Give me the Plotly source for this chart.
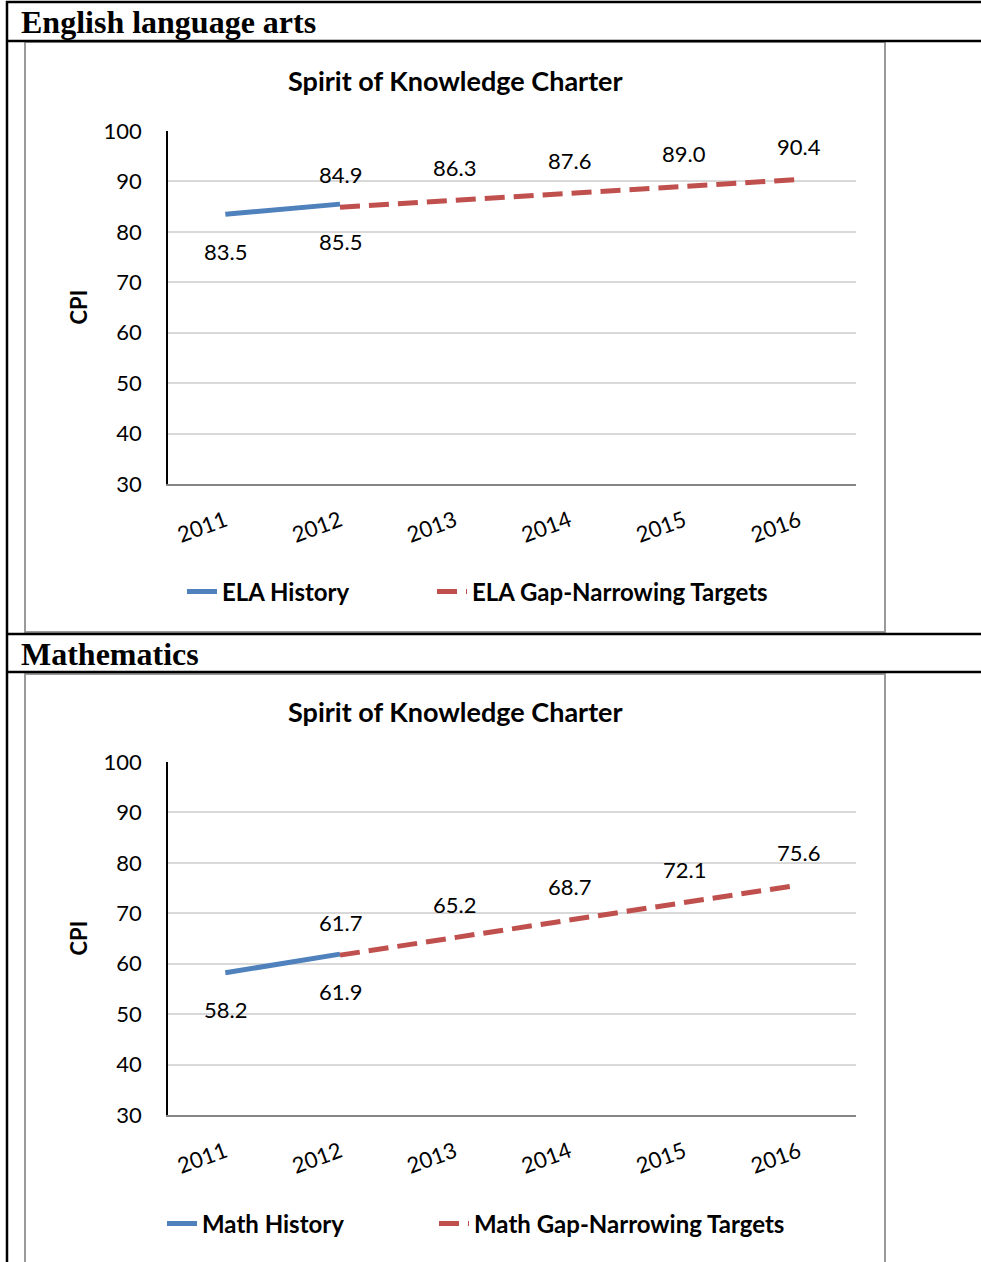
import plotly.graph_objects as go

W, H = 981, 1262

years = ["2011", "2012", "2013", "2014", "2015", "2016"]
hist_years = ["2011", "2012"]
target_years = ["2012", "2013", "2014", "2015", "2016"]

ela_history = [83.5, 85.5]
ela_targets = [84.9, 86.3, 87.6, 89.0, 90.4]
math_history = [58.2, 61.9]
math_targets = [61.7, 65.2, 68.7, 72.1, 75.6]

section_titles = ["English language arts", "Mathematics"]
chart_title = "Spirit of Knowledge Charter"
hist_names = ["ELA History", "Math History"]
target_names = ["ELA Gap-Narrowing Targets", "Math Gap-Narrowing Targets"]
y_ticks = [30, 40, 50, 60, 70, 80, 90, 100]

BLUE = "#4F81BD"
RED = "#C0504D"
FONT = "Lato"


def px(x):
    return x / W


def py(y):
    return 1 - y / H


fig = go.Figure()

panels = [
    dict(hist=ela_history, tgt=ela_targets, top=131, bottom=484, leg_y=592,
         leg_x=(182, 432), title_y=81, header_y=22, frame=(42, 632)),
    dict(hist=math_history, tgt=math_targets, top=762, bottom=1115, leg_y=1224,
         leg_x=(162, 434), title_y=712, header_y=654, frame=(674, 1275)),
]

annotations = []
shapes = []
layout_extra = {}

for i, p in enumerate(panels):
    sfx = "" if i == 0 else str(i + 1)
    xa = "x" + sfx
    ya = "y" + sfx
    leg_h = "legend" if i == 0 else "legend3"
    leg_t = "legend2" if i == 0 else "legend4"

    fig.add_trace(go.Scatter(
        x=hist_years, y=p["hist"], mode="lines", name=hist_names[i],
        line=dict(color=BLUE, width=5), xaxis=xa, yaxis=ya, legend=leg_h,
        showlegend=True, hoverinfo="skip"))
    fig.add_trace(go.Scatter(
        x=target_years, y=p["tgt"], mode="lines", name=target_names[i],
        line=dict(color=RED, width=5, dash="20px,9px"), xaxis=xa, yaxis=ya,
        legend=leg_t, showlegend=True, hoverinfo="skip"))

    for xv, yv in zip(hist_years, p["hist"]):
        annotations.append(dict(x=years.index(xv), y=yv, xref=xa, yref=ya,
                                text=f"{yv:.1f}", showarrow=False, yshift=-37,
                                font=dict(family=FONT, size=22, color="#000")))
    for xv, yv in zip(target_years, p["tgt"]):
        annotations.append(dict(x=years.index(xv), y=yv, xref=xa, yref=ya,
                                text=f"{yv:.1f}", showarrow=False, yshift=33,
                                font=dict(family=FONT, size=22, color="#000")))

    # chart title
    annotations.append(dict(x=px(455), y=py(p["title_y"]), xref="paper", yref="paper",
                            text=f"<b>{chart_title}</b>", showarrow=False,
                            xanchor="center", yanchor="middle",
                            font=dict(family=FONT, size=27, color="#000")))
    # CPI axis title
    annotations.append(dict(x=px(78), y=py((p["top"] + p["bottom"]) / 2),
                            xref="paper", yref="paper", text="<b>CPI</b>",
                            showarrow=False, textangle=-90, xanchor="center",
                            yanchor="middle",
                            font=dict(family=FONT, size=22, color="#000")))
    # section header
    annotations.append(dict(x=px(19), y=py(p["header_y"]), xref="paper", yref="paper",
                            text=f"<b>{section_titles[i]}</b>", showarrow=False,
                            xanchor="left", yanchor="middle",
                            font=dict(family="Liberation Serif", size=32, color="#000")))

    dom_y = [py(p["bottom"]), py(p["top"])]
    layout_extra["xaxis" + sfx] = dict(
        domain=[px(168), px(856)], anchor=ya, type="category",
        categoryorder="array", categoryarray=years, range=[-0.5, 5.5],
        tickangle=-20, showgrid=False, showline=True, linecolor="#868686",
        linewidth=1.5, ticks="", ticklabelstandoff=14,
        tickfont=dict(family=FONT, size=22, color="#000"), fixedrange=True)
    layout_extra["yaxis" + sfx] = dict(
        domain=dom_y, anchor=xa, range=[30, 100], tickvals=y_ticks,
        showgrid=True, gridcolor="#D9D9D9", gridwidth=1.5, showline=True,
        linecolor="#000", linewidth=1.5, zeroline=False, ticks="",
        ticklabelstandoff=20,
        tickfont=dict(family=FONT, size=22, color="#000"), fixedrange=True)
    for legname, lx in zip((leg_h, leg_t), p["leg_x"]):
        layout_extra[legname] = dict(
            orientation="h", x=px(lx), y=py(p["leg_y"]), xanchor="left",
            yanchor="middle", bgcolor="rgba(0,0,0,0)", visible=True,
            font=dict(family=FONT, size=24, color="#000", weight="bold"),
            itemclick=False, itemdoubleclick=False)

    # chart frame
    f0, f1 = p["frame"]
    shapes.append(dict(type="rect", xref="paper", yref="paper",
                       x0=px(25), x1=px(885), y0=py(f1), y1=py(f0),
                       line=dict(color="#9A9A9A", width=2), layer="below"))

# table lines
for yline in [2, 41, 634, 672]:
    shapes.append(dict(type="line", xref="paper", yref="paper",
                       x0=px(6), x1=1, y0=py(yline), y1=py(yline),
                       line=dict(color="#000", width=2.5), layer="below"))
shapes.append(dict(type="line", xref="paper", yref="paper",
                   x0=px(7), x1=px(7), y0=py(1), y1=0,
                   line=dict(color="#000", width=2.5), layer="below"))

fig.update_layout(
    width=W, height=H, showlegend=True,
    margin=dict(l=0, r=0, t=0, b=0, pad=0, autoexpand=False),
    paper_bgcolor="white", plot_bgcolor="white",
    annotations=annotations, shapes=shapes, **layout_extra,
)

fig.write_html(
    "out.html",
    config={"displayModeBar": False},
    post_script="document.body.style.margin='0';document.body.style.overflow='hidden';",
)
